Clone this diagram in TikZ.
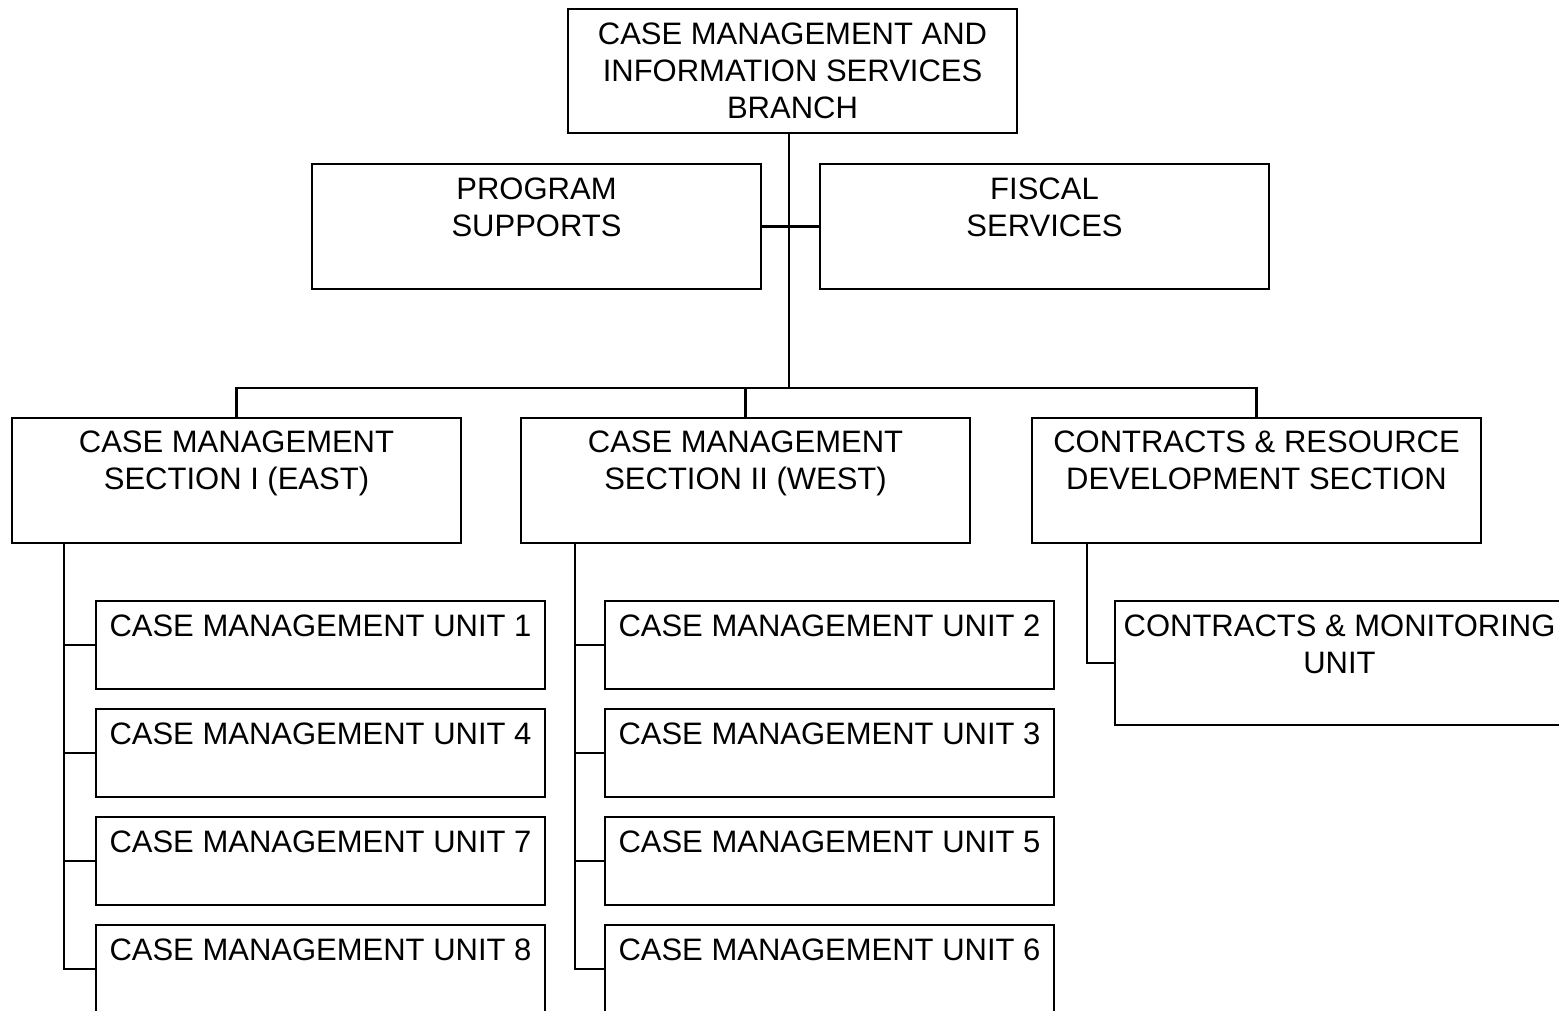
\documentclass[tikz,border=0pt]{standalone}
\usepackage{fontspec}
\setmainfont{Liberation Sans}
\begin{document}
\begin{tikzpicture}[x=0.5pt,y=-0.5pt,
  box/.style={draw, line width=1.2pt, rectangle, anchor=north west,
    inner sep=0pt, outer sep=0pt, minimum width=224.5pt},
  tallbox/.style={box, minimum height=62.5pt},
  unitbox/.style={box, minimum height=44pt},
  txt/.style={anchor=north, inner sep=0pt, align=center,
    font=\fontsize{15.5pt}{18.5pt}\selectfont},
  link/.style={line width=1.2pt}]
\useasboundingbox (0,0) rectangle (1559,1011);

% branch and staff offices
\node[tallbox, minimum height=62pt] (top) at (568,9) {};
\node[tallbox] (prog) at (312,164) {};
\node[tallbox] (fisc) at (820,164) {};

% sections
\node[tallbox] (sec1) at (12,418) {};
\node[tallbox] (sec2) at (521,418) {};
\node[tallbox] (sec3) at (1032,418) {};

% units under section I
\node[unitbox] (u1) at (96,601) {};
\node[unitbox] (u4) at (96,709) {};
\node[unitbox] (u7) at (96,817) {};
\node[unitbox] (u8) at (96,925) {};

% units under section II
\node[unitbox] (u2) at (605,601) {};
\node[unitbox] (u3) at (605,709) {};
\node[unitbox] (u5) at (605,817) {};
\node[unitbox] (u6) at (605,925) {};

% unit under contracts section
\node[tallbox, minimum height=62pt] (cmu) at (1115,601) {};

% box texts
\node[txt] (top-t) at ([yshift=-6.5pt]top.north) {CASE MANAGEMENT AND\\INFORMATION SERVICES\\BRANCH};
\node[txt] (prog-t) at ([yshift=-6.5pt]prog.north) {PROGRAM\\SUPPORTS};
\node[txt] (fisc-t) at ([yshift=-6.5pt]fisc.north) {FISCAL\\SERVICES};
\node[txt] (sec1-t) at ([yshift=-6pt]sec1.north) {CASE MANAGEMENT\\SECTION I (EAST)};
\node[txt] (sec2-t) at ([yshift=-6pt]sec2.north) {CASE MANAGEMENT\\SECTION II (WEST)};
\node[txt] (sec3-t) at ([yshift=-6pt]sec3.north) {CONTRACTS \& RESOURCE\\DEVELOPMENT SECTION};
\foreach \u in {1,4,7,8,2,3,5,6}{
  \node[txt] (u\u-t) at ([yshift=-6.5pt]u\u.north) {CASE MANAGEMENT UNIT \u};
}
\node[txt] (cmu-t) at ([yshift=-6.5pt]cmu.north) {CONTRACTS \& MONITORING\\UNIT};

% trunk and bus
\coordinate (bus) at (789,388);
\draw[link] (top.south -| bus) -- (bus);
\draw[link] (prog.east) -- (fisc.west);
\draw[link] (sec1.north) |- (bus);
\draw[link] (sec3.north) |- (bus);
\draw[link] (sec2.north) -- (sec2.north |- bus);

% section I spine
\coordinate (sp1) at (64,543);
\draw[link] (sp1) |- (u8.west);
\foreach \u in {1,4,7}{ \draw[link] (u\u.west) -- (u\u.west -| sp1); }

% section II spine
\coordinate (sp2) at (575,543);
\draw[link] (sp2) |- (u6.west);
\foreach \u in {2,3,5}{ \draw[link] (u\u.west) -- (u\u.west -| sp2); }

% contracts spine
\coordinate (sp3) at (1087,543);
\draw[link] (sp3) |- (cmu.west);
\end{tikzpicture}
\end{document}
